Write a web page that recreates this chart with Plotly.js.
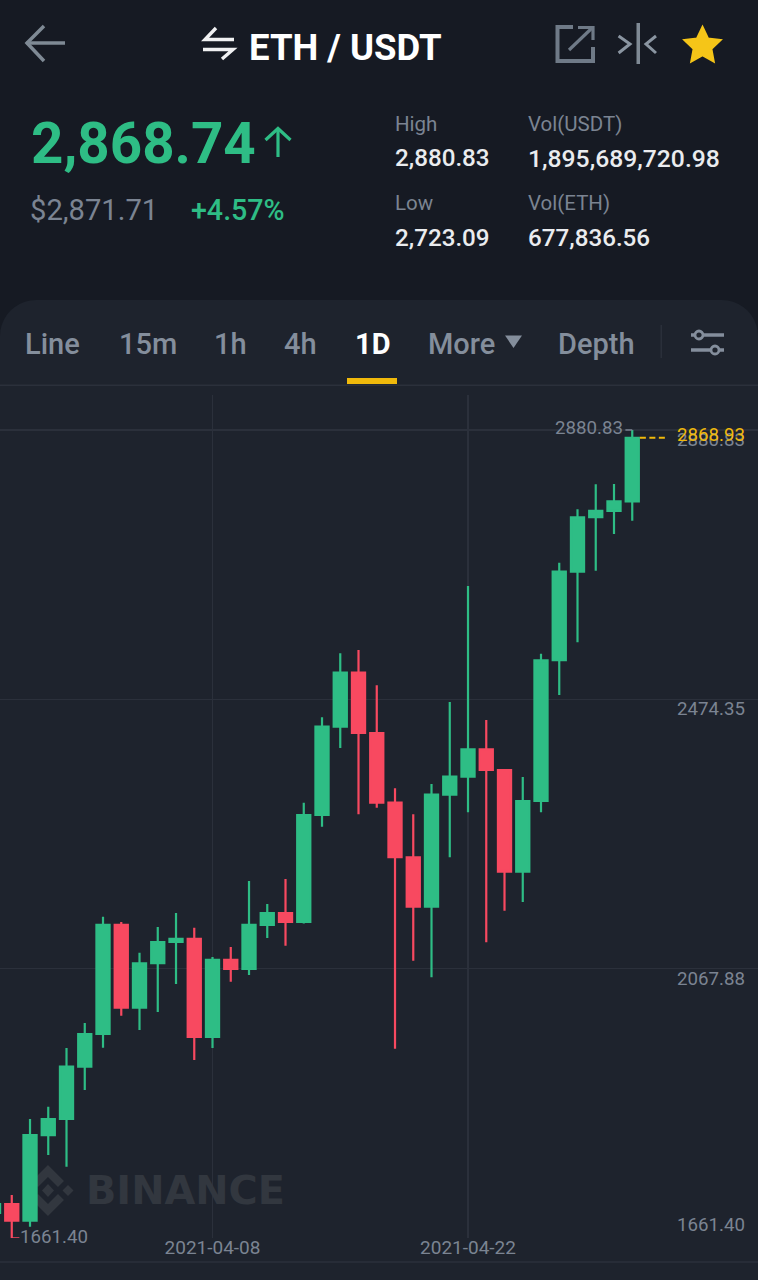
<!DOCTYPE html>
<html><head><meta charset="utf-8">
<script src="https://cdn.plot.ly/plotly-3.0.1.min.js"></script>
<style>html,body{margin:0;padding:0;background:#161a23;overflow:hidden}#c{width:758px;height:1280px}</style>
</head><body><div id="c"></div>
<script>
// ---- data ----
const dates = ['2021-03-27','2021-03-28','2021-03-29','2021-03-30','2021-03-31','2021-04-01','2021-04-02','2021-04-03','2021-04-04','2021-04-05','2021-04-06','2021-04-07','2021-04-08','2021-04-09','2021-04-10','2021-04-11','2021-04-12','2021-04-13','2021-04-14','2021-04-15','2021-04-16','2021-04-17','2021-04-18','2021-04-19','2021-04-20','2021-04-21','2021-04-22','2021-04-23','2021-04-24','2021-04-25','2021-04-26','2021-04-27','2021-04-28','2021-04-29','2021-04-30','2021-05-01'];
const opens  = [1699.1,1712.7,1687.5,1816.8,1841.0,1919.9,1969.3,2133.8,2009.0,2076.0,2108.1,2112.7,1964.7,2081.0,2067.4,2133.8,2151.9,2138.3,2299.8,2433.1,2514.5,2423.5,2318.4,2236.0,2161.4,2330.4,2357.6,2398.9,2367.7,2214.2,2320.9,2533.3,2667.0,2749.1,2758.6,2773.2];
const highs  = [1718.8,1726.3,1841.0,1859.6,1948.1,1985.9,2146.3,2138.3,2092.0,2130.8,2151.9,2129.7,2085.5,2100.6,2200.2,2165.5,2203.2,2318.4,2447.2,2543.8,2548.8,2495.5,2340.1,2300.8,2346.6,2470.3,2645.4,2443.2,2369.2,2357.1,2543.2,2680.6,2761.2,2798.9,2799.3,2880.83];
const lows   = [1691.6,1661.4,1678.5,1786.7,1769.0,1884.8,1948.6,1996.9,1975.3,2002.5,2044.7,1930.0,1948.1,2048.2,2058.3,2114.2,2102.5,2136.0,2282.1,2400.9,2300.8,2310.8,1947.1,2079.9,2054.8,2236.0,2303.9,2107.7,2155.4,2168.5,2303.9,2480.9,2560.4,2668.5,2723.9,2744.0];
const closes = [1712.7,1687.5,1816.8,1841.0,1919.9,1969.3,2133.8,2009.0,2076.0,2108.1,2112.7,1964.7,2081.0,2067.4,2133.8,2151.9,2138.3,2299.8,2433.1,2514.5,2423.5,2318.4,2236.0,2161.4,2330.4,2357.6,2398.9,2367.7,2214.2,2320.9,2533.3,2667.0,2749.1,2758.6,2773.2,2868.93];
const priceTicks = [2880.83,2474.35,2067.88,1661.40];
const priceLabels = ['2880.83','2474.35','2067.88','1661.40'];
const dateTicks = ['2021-04-08','2021-04-22'];
const lastPrice = 2868.93, chartHigh = 2880.83, chartLow = 1661.40;

// ---- page geometry helpers ----
const W=758,H=1280;
const GREEN='#2ebd85',RED='#f84960',GREY='#848e9c',DIM='#7b8492',WHITE='#eaecef',YEL='#f0b90b';
const PANEL='#1e232d',TOP='#161a23',GRID='#2b303b',MARK='#32373f';
const px=x=>(x/W).toFixed(5), py=y=>(1-y/H).toFixed(5);
const path=(pts,close)=>pts.map((p,i)=>(i?'L':'M')+px(p[0])+','+py(p[1])).join(' ')+(close?' Z':'');
const stroke=(pts,color,w,close,fill)=>({type:'path',xref:'paper',yref:'paper',layer:'above',path:path(pts,close),line:{color,width:w},fillcolor:fill||'rgba(0,0,0,0)'});
const filled=(pts,color,layer)=>({type:'path',xref:'paper',yref:'paper',layer:layer||'above',path:path(pts,true),line:{width:0},fillcolor:color});
const rect=(x0,y0,x1,y1,color,layer)=>({type:'rect',xref:'paper',yref:'paper',layer:layer||'above',x0:+px(x0),x1:+px(x1),y0:+py(y1),y1:+py(y0),line:{width:0},fillcolor:color});
const circ=(cx,cy,r,color,w,fill)=>({type:'circle',xref:'paper',yref:'paper',layer:'above',x0:+px(cx-r),x1:+px(cx+r),y0:+py(cy+r),y1:+py(cy-r),line:{color,width:w},fillcolor:fill});
const txt=(text,x,y,size,color,weight,anchor,family)=>({text,xref:'paper',yref:'paper',x:+px(x),y:+py(y),xanchor:anchor||'left',yanchor:'middle',showarrow:false,borderpad:0,
  font:{family:family||'Roboto',size,color,weight:weight||400}});

// star points
const star=[];for(let i=0;i<10;i++){const a=-Math.PI/2+i*Math.PI/5,r=i%2?8.8:18;star.push([702.5+r*Math.cos(a),46+r*Math.sin(a)]);}

// rounded panel
const R=36,panelPts=[[0,1280],[0,300+R]];
for(let i=1;i<=10;i++){const a=Math.PI+i/10*Math.PI/2;panelPts.push([R+R*Math.cos(a),300+R+R*Math.sin(a)]);}
for(let i=0;i<=10;i++){const a=-Math.PI/2+i/10*Math.PI/2;panelPts.push([W-R+R*Math.cos(a),300+R+R*Math.sin(a)]);}
panelPts.push([W,1280]);

const shapes=[
  filled(panelPts,PANEL,'below'),
  // chrome lines
  rect(0,384.5,W,386,GRID,'below'),
  rect(0,1261.3,W,1262.8,GRID,'below'),
  // watermark logo
  filled([[48,1165],[64,1181],[58,1187],[48,1177],[38,1187],[32,1181]],MARK,'below'),
  filled([[48,1216],[64,1200],[58,1194],[48,1204],[38,1194],[32,1200]],MARK,'below'),
  filled([[48,1184],[54,1190.5],[48,1197],[42,1190.5]],MARK,'below'),
  filled([[68,1185],[73.5,1190.5],[68,1196],[62.5,1190.5]],MARK,'below'),
  filled([[28,1185],[33.5,1190.5],[28,1196],[22.5,1190.5]],MARK,'below'),
  // back arrow
  stroke([[26.5,43],[65,43]],'#7f8a95',3.5),
  stroke([[44,26],[27,43],[44,61]],'#7f8a95',3.5),
  // swap icon
  stroke([[216,28],[205,39.5],[234,39.5]],'#f0f1f2',3.4),
  stroke([[203,49.5],[233,49.5],[222,59]],'#f0f1f2',3.4),
  // external link icon
  stroke([[573,27],[557.5,27],[557.5,61],[593,61],[593,47]],'#6f7a87',4),
  stroke([[569,50],[592,28]],'#6f7a87',3.2),
  stroke([[578,27.5],[593,27.5],[593,40]],'#6f7a87',3.2),
  // compare icon
  rect(636.5,23,640,64,'#7f8a95'),
  stroke([[618.6,36],[630,44],[618.6,53]],'#8a95a1',3),
  stroke([[656,36],[646,44],[656,53]],'#8a95a1',3),
  // star
  stroke(star,'#f5c518',3,true,'#f5c518'),
  // up arrow
  stroke([[278,157],[278,129]],GREEN,3.2),
  stroke([[265.5,140],[278,128.5],[290.5,140]],GREEN,3.2),
  // more caret
  filled([[505,335.5],[522,335.5],[513.5,348]],'#848e9c'),
  // divider
  rect(660.5,325,662,358,GRID),
  // settings icon
  stroke([[691,335],[724,335]],GREY,3.4),
  stroke([[691,350],[724,350]],GREY,3.4),
  circ(699,335,4,GREY,2.8,PANEL),
  circ(715,350,4,GREY,2.8,PANEL),
  // active tab underline
  rect(347,378,397,384,YEL)
];

const annotations=[
  txt('ETH / USDT',248,47,36.5,'#ffffff',700),
  txt('2,868.74',30,144,56.5,GREEN,700),
  txt('$2,871.71',29,210,29.2,DIM,400),
  txt('+4.57%',189.5,210,28.6,GREEN,500),
  txt('High',394,124,20.5,DIM),
  txt('2,880.83',394,158,24.2,WHITE,500),
  txt('Vol(USDT)',527,124,20.5,DIM),
  txt('1,895,689,720.98',527,158,24.7,WHITE,500),
  txt('Low',394,203,20.5,DIM),
  txt('2,723.09',394,238,24.2,WHITE,500),
  txt('Vol(ETH)',527,203,20.5,DIM),
  txt('677,836.56',527,238,24.2,WHITE,500),
  txt('Line',24,344,29,GREY,500),
  txt('15m',118,344,29,GREY,500),
  txt('1h',213,344,29,GREY,500),
  txt('4h',283,344,29,GREY,500),
  txt('1D',354,344,29,'#ffffff',700),
  txt('More',427,344,29,GREY,500),
  txt('Depth',557,344,29,GREY,500),
  txt('BINANCE',85,1190,39.8,MARK,700,'left','DejaVu Sans')
];
// right-hand price labels (offset from their gridlines, as in the app)
const tickShift=[-10,-10,-10,13];
priceTicks.forEach((v,i)=>annotations.push({text:priceLabels[i],xref:'paper',yref:'y',x:+px(745.5),y:v,xanchor:'right',yanchor:'middle',yshift:tickShift[i],showarrow:false,borderpad:0,font:{family:'Roboto',size:18.7,color:DIM}}));
annotations.push({text:lastPrice.toFixed(2),xref:'paper',yref:'y',x:+px(745.5),y:lastPrice,xanchor:'right',yanchor:'middle',yshift:3,showarrow:false,borderpad:0,font:{family:'Roboto',size:18.7,color:YEL}});
// high / low markers
annotations.push({text:chartHigh.toFixed(2),xref:'x',yref:'y',x:dates[dates.length-1],y:chartHigh,xanchor:'right',yanchor:'middle',xshift:-8,yshift:2,showarrow:false,borderpad:0,font:{family:'Roboto',size:18.7,color:DIM}});
annotations.push({text:chartLow.toFixed(2),xref:'x',yref:'y',x:dates[1],y:chartLow,xanchor:'left',yanchor:'middle',xshift:7,yshift:1,showarrow:false,borderpad:0,font:{family:'Roboto',size:18.7,color:DIM}});

const traces=[
 {type:'candlestick',x:dates,open:opens,high:highs,low:lows,close:closes,whiskerwidth:0,
  increasing:{line:{color:GREEN,width:2.2},fillcolor:GREEN},decreasing:{line:{color:RED,width:2.2},fillcolor:RED},hoverinfo:'skip',cliponaxis:false},
 {type:'scatter',mode:'lines',x:['2021-05-01 10:00','2021-05-02 22:00'],y:[lastPrice,lastPrice],line:{color:YEL,width:2,dash:'6px,3.5px'},hoverinfo:'skip'},
 {type:'scatter',mode:'lines',x:['2021-04-30 15:00','2021-05-01'],y:[chartHigh,chartHigh],line:{color:DIM,width:1.5},hoverinfo:'skip'},
 {type:'scatter',mode:'lines',x:['2021-03-28','2021-03-28 10:00'],y:[chartLow,chartLow],line:{color:RED,width:1.5},hoverinfo:'skip',cliponaxis:false}
];

const layout={
  width:W,height:H,margin:{l:0,r:0,t:0,b:0},
  paper_bgcolor:TOP,plot_bgcolor:'rgba(0,0,0,0)',showlegend:false,boxgap:0.1,boxgroupgap:0.2,
  shapes,annotations,
  font:{family:'Roboto'},
  xaxis:{type:'date',domain:[0,1],range:['2021-03-27 08:32','2021-05-07 21:22'],rangeslider:{visible:false},
    tickmode:'array',tickvals:dateTicks,ticktext:dateTicks,ticks:'',showline:false,zeroline:false,
    showgrid:true,gridcolor:GRID,gridwidth:1.5,tickfont:{family:'Roboto',size:19,color:DIM},ticklabelstandoff:-4},
  yaxis:{domain:[1-1238/H,1-395/H],range:[chartLow,2933.6],tickmode:'array',tickvals:priceTicks,showticklabels:false,ticks:'',
    showgrid:true,gridcolor:GRID,gridwidth:1.5,zeroline:false,showline:false}
};
Plotly.newPlot('c',traces,layout,{displayModeBar:false,staticPlot:true,responsive:false});
</script></body></html>
